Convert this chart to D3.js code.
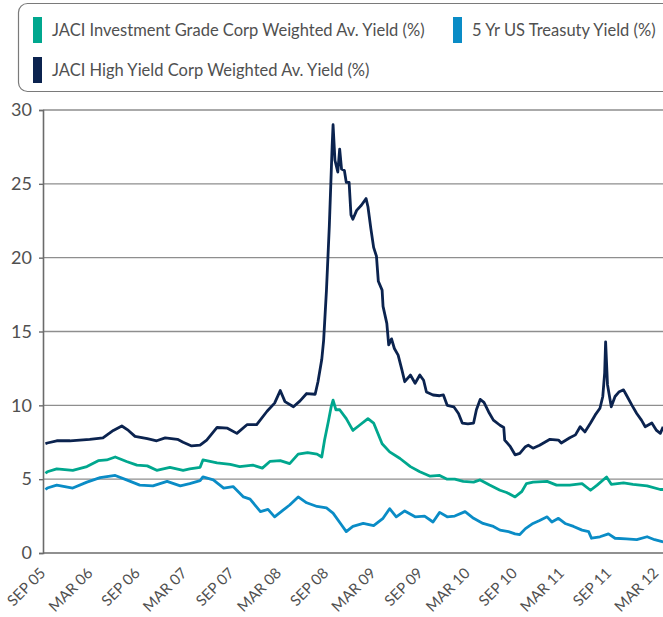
<!DOCTYPE html>
<html lang="en">
<head>
<meta charset="utf-8">
<title>JACI yields</title>
<script src="https://d3js.org/d3.v7.min.js"></script>
<style type="text/css">
  body { margin: 0; background: #fff; }
  text { font-family: Lato, "Open Sans", sans-serif; fill: #505050; }
</style>
</head>
<body>
<svg id="chart" width="663" height="617"></svg>
<script type="text/javascript">
// time is in decimal years, values in percent
var hyTimes = [2005.65,2005.67,2005.77,2005.91,2006.12,2006.26,2006.37,2006.46,2006.53,2006.60,2006.73,2006.83,2006.92,2007.05,2007.11,2007.20,2007.29,2007.36,2007.47,2007.58,2007.68,2007.79,2007.89,2008.00,2008.08,2008.14,2008.19,2008.28,2008.35,2008.42,2008.51,2008.54,2008.58,2008.60,2008.63,2008.66,2008.69,2008.70,2008.72,2008.75,2008.77,2008.79,2008.82,2008.84,2008.87,2008.89,2008.91,2008.95,2009.00,2009.05,2009.07,2009.10,2009.13,2009.16,2009.18,2009.22,2009.23,2009.27,2009.29,2009.32,2009.35,2009.39,2009.43,2009.46,2009.52,2009.57,2009.62,2009.66,2009.69,2009.76,2009.83,2009.87,2009.91,2009.98,2010.03,2010.07,2010.13,2010.19,2010.22,2010.26,2010.30,2010.35,2010.40,2010.47,2010.51,2010.52,2010.58,2010.63,2010.68,2010.74,2010.77,2010.82,2010.89,2011.00,2011.09,2011.12,2011.21,2011.27,2011.32,2011.37,2011.43,2011.48,2011.53,2011.56,2011.58,2011.59,2011.61,2011.65,2011.69,2011.73,2011.78,2011.81,2011.87,2011.92,2011.97,2012.01,2012.08,2012.13,2012.17,2012.20];
var hyValues = [7.4,7.45,7.6,7.6,7.7,7.8,8.3,8.6,8.3,7.9,7.75,7.6,7.8,7.7,7.5,7.25,7.3,7.65,8.5,8.45,8.1,8.7,8.7,9.6,10.15,11.0,10.25,9.9,10.3,10.8,10.75,11.6,13.1,14.4,17.8,22.1,27.5,29.0,26.6,25.8,27.35,26.0,25.9,25.1,25.1,22.9,22.6,23.2,23.55,24.0,23.45,22.0,20.7,20.1,18.4,17.8,16.7,15.55,14.1,14.5,13.85,13.4,12.4,11.6,12.05,11.5,12.05,11.7,10.9,10.7,10.65,10.7,10.0,9.9,9.45,8.8,8.75,8.8,9.7,10.4,10.2,9.55,9.0,8.65,8.5,7.65,7.2,6.65,6.75,7.2,7.3,7.1,7.3,7.7,7.65,7.45,7.8,8.0,8.55,8.2,8.8,9.35,9.8,10.6,12.2,14.3,11.4,9.9,10.6,10.9,11.05,10.7,10.0,9.45,9.0,8.55,8.8,8.3,8.1,8.55];

var igTimes = [2005.65,2005.67,2005.77,2005.94,2006.09,2006.21,2006.30,2006.39,2006.51,2006.62,2006.73,2006.83,2006.97,2007.11,2007.18,2007.29,2007.32,2007.47,2007.61,2007.71,2007.85,2007.95,2008.03,2008.14,2008.24,2008.33,2008.43,2008.53,2008.58,2008.61,2008.65,2008.68,2008.70,2008.73,2008.77,2008.84,2008.91,2008.97,2009.07,2009.13,2009.22,2009.30,2009.41,2009.52,2009.62,2009.73,2009.83,2009.91,2009.99,2010.08,2010.19,2010.26,2010.36,2010.47,2010.54,2010.63,2010.70,2010.75,2010.82,2010.97,2011.07,2011.21,2011.34,2011.43,2011.50,2011.60,2011.65,2011.78,2011.88,2012.03,2012.17,2012.20];
var igValues = [5.4,5.5,5.7,5.6,5.85,6.25,6.3,6.5,6.2,5.95,5.9,5.6,5.8,5.6,5.7,5.8,6.3,6.1,6.0,5.85,5.95,5.75,6.2,6.25,6.05,6.7,6.8,6.7,6.5,7.65,8.9,9.9,10.35,9.7,9.7,9.1,8.3,8.6,9.1,8.8,7.4,6.85,6.4,5.85,5.5,5.2,5.25,5.0,5.0,4.85,4.8,4.95,4.6,4.25,4.1,3.8,4.15,4.7,4.8,4.85,4.6,4.6,4.7,4.25,4.6,5.15,4.65,4.75,4.65,4.55,4.3,4.3];

var ustTimes = [2005.65,2005.67,2005.77,2005.94,2006.09,2006.23,2006.39,2006.51,2006.65,2006.79,2006.94,2007.08,2007.18,2007.29,2007.32,2007.43,2007.54,2007.64,2007.75,2007.82,2007.93,2008.01,2008.08,2008.17,2008.24,2008.33,2008.42,2008.53,2008.63,2008.70,2008.79,2008.84,2008.91,2009.02,2009.13,2009.23,2009.30,2009.37,2009.46,2009.57,2009.67,2009.76,2009.83,2009.91,2009.99,2010.10,2010.19,2010.29,2010.40,2010.47,2010.56,2010.63,2010.68,2010.74,2010.82,2010.89,2010.97,2011.02,2011.09,2011.16,2011.25,2011.34,2011.41,2011.44,2011.53,2011.62,2011.69,2011.81,2011.92,2012.03,2012.11,2012.19,2012.20];
var ustValues = [4.3,4.4,4.6,4.4,4.8,5.1,5.25,4.95,4.6,4.55,4.85,4.55,4.7,4.9,5.15,4.95,4.4,4.5,3.8,3.65,2.8,2.95,2.45,2.9,3.25,3.8,3.4,3.15,3.05,2.7,1.9,1.45,1.8,2.0,1.85,2.35,3.0,2.45,2.85,2.45,2.5,2.1,2.75,2.45,2.5,2.8,2.35,2.0,1.8,1.55,1.45,1.3,1.25,1.65,2.0,2.2,2.45,2.1,2.35,2.0,1.8,1.55,1.45,1.0,1.1,1.3,1.0,0.95,0.9,1.1,0.9,0.77,0.75];

var xTickLabels = ["SEP 05","MAR 06","SEP 06","MAR 07","SEP 07","MAR 08","SEP 08","MAR 09","SEP 09","MAR 10","SEP 10","MAR 11","SEP 11","MAR 12"];
var yTicks = [0, 5, 10, 15, 20, 25, 30];

var seriesNames = ["JACI Investment Grade Corp Weighted Av. Yield (%)", "5 Yr US Treasuty Yield (%)", "JACI High Yield Corp Weighted Av. Yield (%)"];
var seriesColors = ["#00a78e", "#0a8cc6", "#0b234f"];

var svg = d3.select("#chart");

var xScale = d3.scaleLinear().domain([2005 + 8 / 12, 2012 + 2 / 12]).range([47, 660]);
var yScale = d3.scaleLinear().domain([0, 30]).range([553, 110]);

// gridlines
svg.append("g").selectAll("line")
  .data(yTicks.filter(function(d) { return d > 0; }))
  .enter().append("line")
  .attr("x1", 43).attr("x2", 663)
  .attr("y1", function(d) { return yScale(d); })
  .attr("y2", function(d) { return yScale(d); })
  .attr("stroke", "#8e8e8e").attr("stroke-width", 1.3);

// y axis
var yAxis = d3.axisLeft(yScale).tickValues(yTicks).tickSize(4).tickPadding(7);
var gy = svg.append("g").attr("transform", "translate(43,0)").call(yAxis);
gy.select(".domain").attr("stroke", "#6b6b6b").attr("stroke-width", 1.6);
gy.selectAll(".tick line").attr("stroke", "#6b6b6b").attr("stroke-width", 1.4);
gy.selectAll(".tick text").attr("font-size", "18px").attr("fill", "#505050")
  .attr("font-family", "Lato, sans-serif");

// x axis
var xTickVals = xTickLabels.map(function(d, i) { return 2005 + 8 / 12 + i * 0.5; });
var xAxis = d3.axisBottom(xScale).tickValues(xTickVals).tickSize(0)
  .tickFormat(function(d, i) { return xTickLabels[i]; });
var gx = svg.append("g").attr("transform", "translate(0,553)").call(xAxis);
gx.select(".domain").attr("d", "M43,0H663").attr("stroke", "#6b6b6b").attr("stroke-width", 1.6);
gx.selectAll(".tick text")
  .attr("font-size", "15px").attr("fill", "#505050").attr("font-family", "Lato, sans-serif")
  .attr("text-anchor", "end")
  .attr("y", 0).attr("dy", 0)
  .attr("transform", "translate(-1,21) rotate(-45)");

// lines
var lineGen = d3.line()
  .x(function(d) { return xScale(d[0]); })
  .y(function(d) { return yScale(d[1]); });

var series = [
  d3.zip(igTimes, igValues),
  d3.zip(ustTimes, ustValues),
  d3.zip(hyTimes, hyValues)
];

svg.append("g").selectAll("path")
  .data(series)
  .enter().append("path")
  .attr("d", lineGen)
  .attr("fill", "none")
  .attr("stroke", function(d, i) { return seriesColors[i]; })
  .attr("stroke-width", 2.8)
  .attr("stroke-linejoin", "round");

// legend
svg.append("rect")
  .attr("x", 18.5).attr("y", 3.5).attr("width", 660).attr("height", 88)
  .attr("rx", 9).attr("fill", "none").attr("stroke", "#7a7a7a").attr("stroke-width", 1.2);

var legendPos = [[33, 36], [453, 36], [33, 76]];
var leg = svg.append("g").selectAll("g")
  .data(seriesNames)
  .enter().append("g")
  .attr("transform", function(d, i) { return "translate(" + legendPos[i][0] + "," + legendPos[i][1] + ")"; });
leg.append("rect")
  .attr("x", 0).attr("y", -19).attr("width", 9).attr("height", 26)
  .attr("fill", function(d, i) { return seriesColors[i]; });
leg.append("text")
  .attr("x", 19).attr("y", 0)
  .attr("font-size", "16.5px")
  .text(function(d) { return d; });
</script>
</body>
</html>
